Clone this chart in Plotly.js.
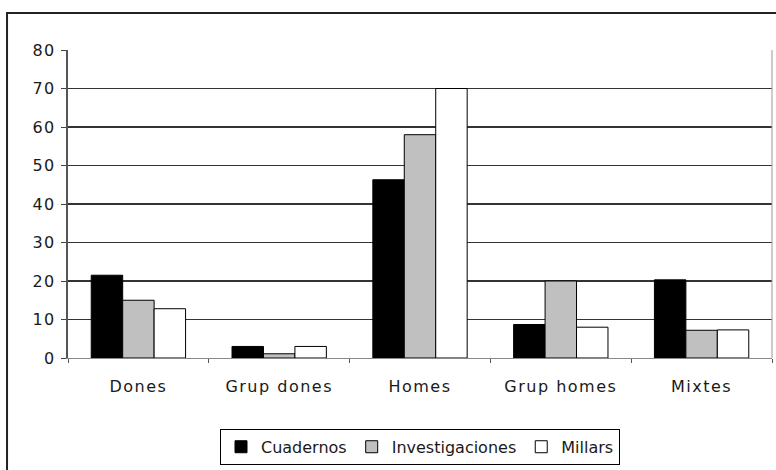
<!DOCTYPE html>
<html>
<head>
<meta charset="utf-8">
<script src="https://cdn.plot.ly/plotly-3.0.1.min.js"></script>
<style>
  html, body { margin: 0; padding: 0; background: #fff; }
  #chart { width: 776px; height: 470px; }
  #chart .xtick text, #chart .ytick text { letter-spacing: 1.5px; }
</style>
</head>
<body>
<div id="chart"></div>
<script>
// Categories and series values
const categories = ["Dones", "Grup dones", "Homes", "Grup homes", "Mixtes"];
const seriesNames = ["Cuadernos", "Investigaciones", "Millars"];
const cuadernos = [21.5, 3, 46.3, 8.7, 20.3];
const investigaciones = [15, 1.1, 58, 20, 7.2];
const millars = [12.8, 3, 70, 8, 7.3];
const yTicks = [0, 10, 20, 30, 40, 50, 60, 70, 80];

const fills = ["#000000", "#c0c0c0", "#ffffff"];
const values = [cuadernos, investigaciones, millars];

const traces = values.map((v, i) => ({
  type: "bar",
  name: seriesNames[i],
  x: categories,
  y: v,
  marker: { color: fills[i], line: { color: "#000", width: 1 } },
  hoverinfo: "x+y+name"
}));

const font = { family: "DejaVu Sans, Arial, sans-serif", size: 16, color: "#1a1a1a" };

const layout = {
  width: 776,
  height: 470,
  margin: { l: 68, r: 4, t: 50, b: 112 },
  paper_bgcolor: "#ffffff",
  plot_bgcolor: "#ffffff",
  font: font,
  showlegend: true,
  barmode: "group",
  bargap: 0.33,
  bargroupgap: 0,
  xaxis: {
    type: "category",
    tickson: "boundaries",
    ticks: "outside",
    ticklen: 4,
    tickcolor: "#555",
    showline: true,
    linecolor: "#888",
    linewidth: 1,
    showgrid: false,
    ticklabelstandoff: 14,
    tickfont: font
  },
  yaxis: {
    range: [0, 80],
    tickvals: yTicks,
    ticks: "outside",
    ticklen: 5,
    tickcolor: "#444",
    showline: true,
    linecolor: "#555",
    linewidth: 2,
    showgrid: true,
    gridcolor: "#333",
    gridwidth: 1.3,
    zeroline: false,
    ticklabelstandoff: 2,
    tickfont: font
  },
  legend: {
    orientation: "h",
    x: 0.5,
    xanchor: "center",
    y: -0.23,
    yanchor: "top",
    bordercolor: "#000",
    borderwidth: 1,
    bgcolor: "#fff",
    font: font,
    itemwidth: 30,
    traceorder: "normal"
  },
  shapes: [
    // right edge of the plot area
    { type: "line", xref: "paper", yref: "paper", x0: 1, x1: 1, y0: 0, y1: 1,
      line: { color: "#999", width: 1 } },
    // outer chart frame
    { type: "rect", xref: "paper", yref: "paper",
      x0: -0.0866, x1: 1.02, y0: -0.40, y1: 1.12,
      line: { color: "#222", width: 2 }, fillcolor: "rgba(0,0,0,0)", layer: "above" }
  ]
};

Plotly.newPlot("chart", traces, layout, { displayModeBar: false, staticPlot: true });
</script>
</body>
</html>
